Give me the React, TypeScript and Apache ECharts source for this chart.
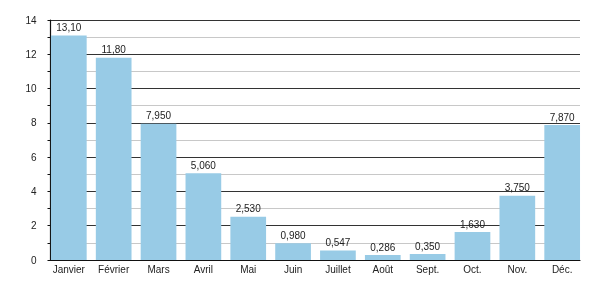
import React, { useEffect, useRef } from "react";
import * as echarts from "echarts";

const months = ["Janvier", "Février", "Mars", "Avril", "Mai", "Juin", "Juillet", "Août", "Sept.", "Oct.", "Nov.", "Déc."];
const values = [13.1, 11.8, 7.95, 5.06, 2.53, 0.98, 0.547, 0.286, 0.35, 1.63, 3.75, 7.87];
const valueLabels = ["13,10", "11,80", "7,950", "5,060", "2,530", "0,980", "0,547", "0,286", "0,350", "1,630", "3,750", "7,870"];

const FONT = "Liberation Sans";

export default function App() {
  const ref = useRef<HTMLDivElement>(null);
  useEffect(() => {
    const chart = echarts.init(ref.current!, null, { renderer: "svg" });
    chart.setOption({
      animation: false,
      grid: [
        { left: 50.5, right: 20, top: 20, bottom: 40 },
        { left: 46.4, right: 15.4, top: 20, bottom: 40 },
      ],
      xAxis: [
        {
          type: "category",
          gridIndex: 0,
          data: months,
          axisLine: { show: true, lineStyle: { color: "#111", width: 1.2 } },
          axisTick: { show: false },
          axisLabel: { show: false },
          z: 5,
        },
        {
          type: "category",
          gridIndex: 1,
          data: months,
          axisLine: { show: false },
          axisTick: { show: false },
          axisLabel: { color: "#222", fontFamily: FONT, fontSize: 10, margin: 4, interval: 0 },
        },
      ],
      yAxis: [
        {
          type: "value",
          gridIndex: 0,
          min: 0,
          max: 14,
          interval: 2,
          axisLine: { show: true, lineStyle: { color: "#111", width: 1.2 } },
          axisTick: { show: true, length: 3, lineStyle: { color: "#111" } },
          minorTick: { show: true, splitNumber: 2, length: 3, lineStyle: { color: "#111" } },
          axisLabel: { color: "#222", fontFamily: FONT, fontSize: 10, margin: 14 },
          splitLine: { show: true, lineStyle: { color: "#333", width: 1 } },
          minorSplitLine: { show: true, lineStyle: { color: "#c8c8c8", width: 1 } },
          z: 1,
        },
        {
          type: "value",
          gridIndex: 1,
          min: 0,
          max: 14,
          show: false,
        },
      ],
      series: [
        {
          type: "bar",
          xAxisIndex: 1,
          yAxisIndex: 1,
          data: values,
          barWidth: 35.7,
          itemStyle: { color: "#98CBE6" },
          label: {
            show: true,
            position: "top",
            distance: 3,
            color: "#222",
            fontFamily: FONT,
            fontSize: 10,
            formatter: (p: any) => valueLabels[p.dataIndex],
          },
          z: 3,
        },
      ],
    });
    return () => chart.dispose();
  }, []);
  return <div ref={ref} style={{ width: 600, height: 300, position: "fixed", left: 0, top: 0 }} />;
}
